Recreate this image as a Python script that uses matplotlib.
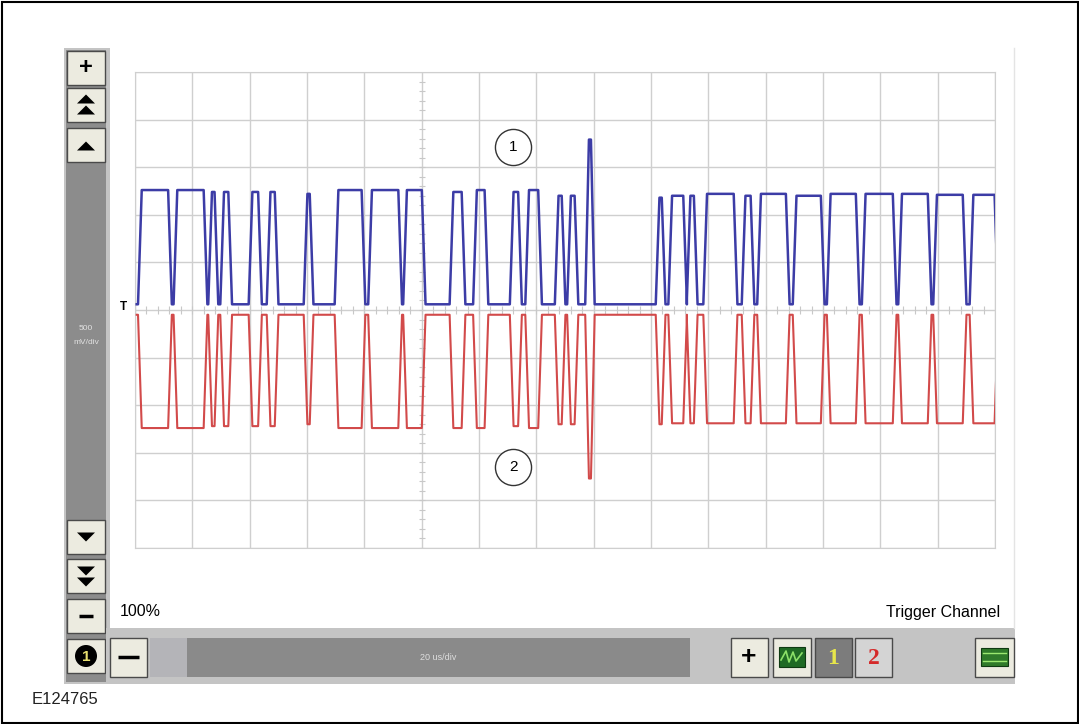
"""CAN bus capture (CAN-H / CAN-L) redrawn as a scope screenshot."""

import matplotlib.pyplot as plt
from matplotlib.patches import Rectangle, Polygon, Circle
import numpy as np

plt.rcParams["font.family"] = ["Liberation Sans", "DejaVu Sans"]

# === Scope settings ===
US_PER_DIV = 20          # time base [us/div]
MV_PER_DIV = 500         # vertical [mV/div]
N_XDIV = 15
N_YDIV = 10
V_CENTER = 2.5           # [V] trace centre line

bit_start = [1.7, 14.1, 26.2, 30.4, 40.3, 46.6, 59.5, 70.3, 82.0, 94.2,
             110.4, 118.6, 131.4, 136.8, 147.1, 151.4, 157.7, 182.3, 186.7,
             193.1, 198.9, 212.3, 217.7, 230.1, 242.0, 254.2, 266.9, 279.1,
             291.8]
bit_end = [12.2, 24.6, 28.4, 33.2, 43.6, 49.4, 61.6, 79.7, 92.5, 100.7,
           114.6, 122.6, 134.3, 141.3, 149.5, 154.0, 159.7, 184.4, 191.9,
           195.6, 209.5, 215.4, 227.7, 239.9, 252.1, 265.0, 277.2, 289.4,
           300.5]
# peak level of each dominant bit [V]
can_h_peak = [3.76, 3.76, 3.74, 3.74, 3.74, 3.74, 3.72, 3.76, 3.76, 3.76,
              3.74, 3.76, 3.74, 3.76, 3.70, 3.70, 4.29, 3.68, 3.70, 3.70,
              3.72, 3.70, 3.72, 3.70, 3.72, 3.72, 3.72, 3.71, 3.71]
can_l_peak = [1.26, 1.26, 1.28, 1.28, 1.28, 1.28, 1.30, 1.26, 1.26, 1.26,
              1.26, 1.26, 1.28, 1.26, 1.30, 1.30, 0.73, 1.30, 1.31, 1.31,
              1.31, 1.31, 1.31, 1.31, 1.31, 1.31, 1.31, 1.31, 1.31]
CAN_H_REC = 2.56
CAN_L_REC = 2.45
T_EDGE = 1.3             # [us] edge duration
T_FIRST = 0.6            # [us] first sample shown


def trace(peaks, rec):
    t, v = [T_FIRST], [rec]
    for s, e, p in zip(bit_start, bit_end, peaks):
        t += [s - T_EDGE / 2, s + T_EDGE / 2, e - T_EDGE / 2, e + T_EDGE / 2]
        v += [rec, p, p, rec]
    return np.array(t), np.array(v)


t_h, v_h = trace(can_h_peak, CAN_H_REC)
t_l, v_l = trace(can_l_peak, CAN_L_REC)

# === Figure ===
W, H = 1079, 724
fig = plt.figure(figsize=(W / 100, H / 100), dpi=100)

# pixel-space layer for the scope software chrome
ui = fig.add_axes([0, 0, 1, 1], zorder=0)
ui.set_xlim(0, W)
ui.set_ylim(H, 0)
ui.axis("off")

BTN = "#ecebe0"
EDGE = "#4a4a4a"


def button(x, y, w, h, face=BTN):
    ui.add_patch(Rectangle((x, y), w, h, fc=face, ec=EDGE, lw=1.0))


def tri(cx, cy, up=True, w=18, h=9):
    d = -1 if up else 1
    ui.add_patch(Polygon([(cx - w / 2, cy - d * h / 2), (cx + w / 2, cy - d * h / 2),
                          (cx, cy + d * h / 2)], closed=True, fc="black", ec="none"))


# outer frame
ui.add_patch(Rectangle((1.5, 1.5), W - 3, H - 3, fc="none", ec="black", lw=1.5))
ui.plot([1014, 1014], [48, 628], color="#e4e4e4", lw=1)

# left vertical bar
ui.add_patch(Rectangle((64, 48), 46, 636, fc="#c4c4c4", ec="none"))
ui.add_patch(Rectangle((66, 50), 40, 632, fc="#8c8c8c", ec="none"))
ui.text(86, 329, "500", color="#e2e2e2", fontsize=6, ha="center", va="center")
ui.text(86, 343, "mV/div", color="#e2e2e2", fontsize=6, ha="center", va="center")

bx, bw, bh = 67, 38, 34
button(bx, 51, bw, bh)
ui.text(bx + bw / 2, 68, "+", fontsize=17, ha="center", va="center", weight="bold")
button(bx, 88, bw, bh)
tri(bx + bw / 2, 99, up=True)
tri(bx + bw / 2, 110, up=True)
button(bx, 128, bw, bh)
tri(bx + bw / 2, 146, up=True)
button(bx, 520, bw, bh)
tri(bx + bw / 2, 537, up=False)
button(bx, 559, bw, bh)
tri(bx + bw / 2, 571, up=False)
tri(bx + bw / 2, 582, up=False)
button(bx, 599, bw, bh)
ui.plot([bx + 12, bx + bw - 12], [616, 616], color="black", lw=2.5, solid_capstyle="butt")
button(bx, 639, bw, bh)
ui.add_patch(Circle((bx + bw / 2, 656), 11, fc="black", ec="none"))
ui.text(bx + bw / 2, 657, "1", color="#e8e070", fontsize=11, weight="bold",
        ha="center", va="center")

# bottom horizontal bar
ui.add_patch(Rectangle((106, 628), 909, 56, fc="#c4c4c4", ec="none"))
button(110, 638, 37, 39)
ui.plot([118, 139], [657, 657], color="black", lw=2.5, solid_capstyle="butt")
ui.add_patch(Rectangle((150, 638), 37, 39, fc="#b4b4b8", ec="none"))
ui.add_patch(Rectangle((187, 638), 503, 39, fc="#8a8a8a", ec="none"))
ui.text(438, 658, "20 us/div", color="#dedede", fontsize=6.5, ha="center", va="center")
button(731, 638, 37, 39)
ui.text(749, 657, "+", fontsize=19, ha="center", va="center", weight="bold")
button(773, 638, 38, 39)
ui.add_patch(Rectangle((779, 647), 26, 20, fc="#1f6a24", ec="#0f3a12", lw=0.8))
ui.plot([781, 786, 789, 793, 796, 802], [660, 651, 662, 652, 661, 653], color="#8be068", lw=1.2)
button(815, 638, 37, 39, face="#7c7c7c")
ui.text(833.5, 658, "1", color="#e7e64a", fontsize=17, weight="bold",
        family=["Liberation Serif", "DejaVu Serif"], ha="center", va="center")
button(855, 638, 37, 39, face="#d4d4d4")
ui.text(873.5, 658, "2", color="#d42a2a", fontsize=17, weight="bold",
        family=["Liberation Serif", "DejaVu Serif"], ha="center", va="center")
button(975, 638, 39, 39)
ui.add_patch(Rectangle((981, 648), 27, 18, fc="#2f7a2a", ec="#0f3a12", lw=0.8))
ui.plot([983, 1006], [653, 653], color="#9be870", lw=1.0)
ui.plot([983, 1006], [661, 661], color="#9be870", lw=1.0)

ui.text(120, 612, "100%", fontsize=11.5, ha="left", va="center")
ui.text(1000, 612, "Trigger Channel", fontsize=11.5, ha="right", va="center")
ui.text(32, 700, "E124765", fontsize=12, ha="left", va="center", color="#222222")
ui.text(123, 307, "T", fontsize=8.5, ha="center", va="center", weight="bold")

# === Scope graticule + traces ===
x0, x1, y0, y1 = 135, 995, 72, 548
ax = fig.add_axes([x0 / W, 1 - y1 / H, (x1 - x0) / W, (y1 - y0) / H], zorder=1)
t_max = N_XDIV * US_PER_DIV
v_span = N_YDIV * MV_PER_DIV / 1000
ax.set_xlim(0, t_max)
ax.set_ylim(V_CENTER - v_span / 2, V_CENTER + v_span / 2)
ax.set_xticks(np.arange(0, t_max + 1, US_PER_DIV))
ax.set_yticks(np.arange(0, v_span + 0.01, MV_PER_DIV / 1000))
ax.grid(color="#cfcfcf", lw=1.0)
ax.tick_params(length=0, labelbottom=False, labelleft=False)
for s in ax.spines.values():
    s.set_color("#cfcfcf")

# centre-cross minor ticks
t_c = 5 * US_PER_DIV
ax.vlines(np.arange(0, t_max, US_PER_DIV / 5), V_CENTER - 0.04, V_CENTER + 0.04,
          color="#c8c8c8", lw=0.8)
ax.hlines(np.arange(0, v_span, MV_PER_DIV / 5000), t_c - 1.0, t_c + 1.0,
          color="#c8c8c8", lw=0.8)

ax.plot(t_l, v_l, color="#d24a4a", lw=1.5, zorder=3)
ax.plot(t_h, v_h, color="#3c3ca6", lw=1.8, zorder=4)

# callouts
for tx, vy, lab in [(131.9, 4.21, "1"), (131.9, 0.85, "2")]:
    ax.plot(tx, vy, "o", ms=26, mfc="white", mec="#333333", mew=1.0, zorder=5)
    ax.text(tx, vy, lab, fontsize=11, ha="center", va="center", zorder=6)

fig.savefig("out.png", dpi=100)
